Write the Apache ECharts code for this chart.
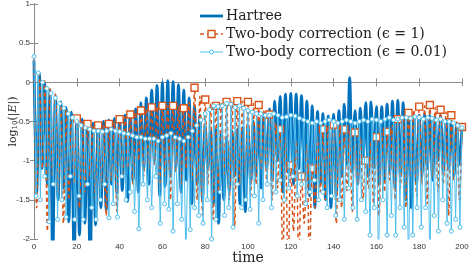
<!DOCTYPE html>
<html>
<head>
<meta charset="utf-8">
<script src="https://cdn.jsdelivr.net/npm/echarts@6/dist/echarts.min.js"></script>
<style>html,body{margin:0;padding:0;background:#fff}#c{width:471px;height:265px}</style>
</head>
<body>
<div id="c"></div>
<script>
// ---- data ----
const seriesNames = ['Hartree', 'Two-body correction (ϵ = 1)', 'Two-body correction (ϵ = 0.01)'];
const xTicks = [0, 20, 40, 60, 80, 100, 120, 140, 160, 180, 200];
const yTicks = [-2, -1.5, -1, -0.5, 0, 0.5, 1];

// Hartree: oscillation period 2.5 (peaks at t = 0, 2.5, ..., 200; troughs half-way)
const hartreePeriod = 2.5;
const hartreePeaks = [0.28,0.11,-0.01,-0.1,-0.17,-0.25,-0.32,-0.38,-0.43,-0.47,-0.5,-0.52,-0.52,-0.5,-0.48,-0.46,-0.44,-0.42,-0.38,-0.34,
  -0.26,-0.2,-0.1,-0.04,0.0,0.02,0.01,-0.03,-0.1,-0.2,-0.3,-0.42,-0.55,-0.62,-0.6,-0.65,-0.7,-0.62,-0.6,-0.58,
  -0.55,-0.5,-0.48,-0.42,-0.34,-0.24,-0.18,-0.15,-0.14,-0.15,-0.17,-0.24,-0.3,-0.37,-0.4,-0.43,-0.41,-0.36,-0.28,0.06,
  -0.36,-0.33,-0.26,-0.25,-0.31,-0.31,-0.28,-0.24,-0.23,-0.26,-0.4,-0.45,-0.42,-0.4,-0.42,-0.45,-0.42,-0.48,-0.5,-0.52,-0.55];
const hartreeTroughs = [-1.42,-1.1,-1.3,-2.3,-1.5,-1.35,-1.78,-2.3,-1.95,-1.8,-2.4,-1.82,-1.6,-1.63,-1.3,-1.42,-1.38,-1.52,-1.25,-1.4,
  -1.1,-1.3,-1.0,-1.45,-1.33,-1.2,-1.1,-1.4,-1.25,-1.55,-1.3,-1.5,-1.1,-1.55,-1.8,-1.5,-1.4,-1.2,-1.55,-1.65,
  -1.3,-1.2,-1.35,-1.1,-1.25,-1.0,-1.4,-1.15,-1.3,-1.1,-1.2,-1.45,-1.6,-1.3,-1.5,-1.6,-1.45,-1.2,-1.05,-1.15,
  -1.3,-1.0,-1.2,-1.1,-1.3,-1.25,-1.15,-1.35,-1.2,-1.5,-1.6,-1.3,-1.2,-1.1,-1.25,-1.0,-1.15,-1.1,-1.2,-1.05];

// Two-body correction, eps = 1: period 2.5, square markers every 5 from t = 20
const eps1Period = 2.5;
const eps1MarkerEvery = 5;
const eps1MarkerStart = 20;
const eps1Peaks = [0.3,0.1,0.02,-0.08,-0.15,-0.25,-0.35,-0.42,-0.46,-0.5,-0.53,-0.55,-0.55,-0.55,-0.53,-0.5,-0.47,-0.44,-0.41,-0.38,
  -0.36,-0.34,-0.32,-0.31,-0.3,-0.3,-0.3,-0.31,-0.33,-0.25,-0.07,-0.18,-0.22,-0.27,-0.3,-0.27,-0.25,-0.24,-0.24,-0.24,
  -0.25,-0.27,-0.29,-0.35,-0.41,-0.5,-0.6,-0.7,-1.06,-0.75,-1.2,-0.8,-1.1,-0.7,-0.6,-0.55,-0.54,-0.55,-0.6,-0.62,
  -0.64,-0.7,-1.0,-0.75,-0.7,-0.65,-0.63,-0.55,-0.47,-0.43,-0.39,-0.35,-0.31,-0.3,-0.29,-0.32,-0.35,-0.38,-0.42,-0.5,-0.57];
const eps1Troughs = [-1.6,-1.1,-1.9,-1.2,-1.4,-1.8,-1.5,-1.3,-1.6,-1.4,-1.2,-1.5,-1.35,-1.7,-1.25,-1.65,-1.2,-1.1,-1.3,-1.0,
  -1.2,-1.1,-1.05,-1.35,-1.2,-1.5,-1.15,-1.3,-1.1,-1.25,-1.5,-1.7,-1.3,-1.75,-1.4,-1.2,-1.5,-1.85,-1.3,-1.2,
  -1.45,-1.3,-1.1,-1.25,-1.5,-1.35,-2.3,-2.4,-1.9,-2.3,-1.8,-2.3,-1.6,-1.4,-1.5,-1.3,-1.8,-1.6,-1.4,-1.65,
  -1.3,-1.5,-1.35,-1.6,-1.7,-1.4,-1.25,-1.5,-1.35,-1.6,-1.2,-1.45,-1.3,-1.55,-1.2,-1.4,-1.3,-1.7,-1.25,-1.5];

// Two-body correction, eps = 0.01: period 2 (peaks at t = 0, 2, ..., 200)
const eps001Period = 2;
const eps001Peaks = [0.33,0.12,0.0,-0.08,-0.14,-0.2,-0.27,-0.33,-0.4,-0.45,-0.5,-0.55,-0.58,-0.6,-0.62,-0.62,-0.63,-0.62,-0.6,-0.62,
  -0.63,-0.65,-0.66,-0.68,-0.7,-0.7,-0.72,-0.72,-0.72,-0.75,-0.7,-0.68,-0.65,-0.7,-0.72,-0.75,-0.7,-0.62,-0.55,-0.48,
  -0.4,-0.35,-0.3,-0.31,-0.3,-0.27,-0.28,-0.32,-0.3,-0.33,-0.36,-0.38,-0.4,-0.4,-0.42,-0.42,-0.4,-0.42,-0.45,-0.44,
  -0.42,-0.43,-0.46,-0.48,-0.5,-0.52,-0.5,-0.52,-0.5,-0.48,-0.5,-0.52,-0.5,-0.48,-0.5,-0.52,-0.5,-0.48,-0.5,-0.47,
  -0.48,-0.5,-0.47,-0.45,-0.48,-0.47,-0.45,-0.45,-0.46,-0.44,-0.45,-0.47,-0.45,-0.46,-0.48,-0.47,-0.5,-0.5,-0.52,-0.55,-0.58];
const eps001Troughs = [-1.45,-1.5,-1.2,-1.78,-1.3,-1.75,-1.5,-1.72,-1.2,-1.75,-1.45,-1.75,-1.3,-1.6,-1.75,-1.5,-1.3,-1.73,-1.55,-1.72,
  -1.2,-1.5,-1.4,-1.65,-1.87,-1.3,-1.5,-1.6,-1.2,-1.8,-1.55,-1.62,-1.9,-1.55,-1.75,-2.3,-1.88,-1.6,-1.7,-1.8,
  -1.5,-2.0,-1.75,-1.4,-1.7,-1.6,-1.85,-1.3,-1.6,-1.5,-1.62,-1.45,-1.8,-1.5,-1.3,-1.6,-1.4,-1.25,-1.5,-1.35,
  -1.2,-1.45,-1.3,-1.55,-1.4,-1.25,-1.5,-1.4,-1.6,-1.45,-1.7,-1.5,-1.75,-1.35,-1.6,-1.75,-1.5,-1.65,-1.95,-1.6,
  -2.4,-1.5,-1.95,-1.7,-1.95,-1.6,-1.85,-2.4,-1.95,-1.6,-1.85,-1.6,-2.4,-1.7,-1.9,-1.5,-1.8,-1.9,-1.75,-1.85];

// ---- build ----
function isMarker(t) {
  if (!eps1MarkerEvery || t < eps1MarkerStart) return false;
  const r = t / eps1MarkerEvery;
  return Math.abs(r - Math.round(r)) < 1e-9;
}
function build(peaks, troughs, period, withMarkers) {
  const out = [];
  for (let i = 0; i < peaks.length; i++) {
    const t = i * period;
    if (withMarkers) out.push({ value: [t, peaks[i]], symbol: isMarker(t) ? 'rect' : 'none' });
    else out.push([t, peaks[i]]);
    if (i < troughs.length) {
      const tt = t + period / 2;
      if (withMarkers) out.push({ value: [tt, troughs[i]], symbol: 'none' });
      else out.push([tt, troughs[i]]);
    }
  }
  return out;
}

const C1 = '#0072BD', C2 = '#D95319', C3 = '#4DBEEE';
const axisColor = '#8a8a8a';
const labelFont = 'Liberation Sans, Arial, sans-serif';
const serif = 'DejaVu Serif, serif';

// legend drawn as graphic (icons + real text)
const legendX = 200, legendY = [16, 34, 52], legendLen = 23, legendTextX = 226;
const legendGraphics = [];
[0, 1, 2].forEach(function (k) {
  const y = legendY[k];
  const style = k === 0 ? { stroke: C1, lineWidth: 2.8 }
              : k === 1 ? { stroke: C2, lineWidth: 1.5, lineDash: [4, 3] }
              : { stroke: C3, lineWidth: 1 };
  legendGraphics.push({ type: 'line', shape: { x1: legendX, y1: y, x2: legendX + legendLen, y2: y }, style: style, silent: true, z: 100 });
  if (k === 1) legendGraphics.push({ type: 'rect', shape: { x: legendX + legendLen / 2 - 3.5, y: y - 3.5, width: 7, height: 7 }, style: { fill: '#fff', stroke: C2, lineWidth: 1.4 }, z: 101 });
  if (k === 2) legendGraphics.push({ type: 'circle', shape: { cx: legendX + legendLen / 2, cy: y, r: 2 }, style: { fill: '#fff', stroke: C3, lineWidth: 1 }, z: 101 });
  legendGraphics.push({ type: 'text', x: legendTextX, y: y, style: { text: seriesNames[k], fontFamily: serif, fontSize: 14, fill: '#222', verticalAlign: 'middle', align: 'left' }, z: 101 });
});

const chart = echarts.init(document.getElementById('c'), null, { renderer: 'canvas' });
chart.setOption({
  animation: false,
  backgroundColor: '#fff',
  grid: { left: 34, right: 9, top: 4, bottom: 26, containLabel: false, outerBoundsMode: 'none' },
  graphic: legendGraphics,
  xAxis: [{
    type: 'value', min: xTicks[0], max: xTicks[xTicks.length - 1], interval: 20,
    axisLine: { show: true, lineStyle: { color: axisColor, width: 1 } },
    axisTick: { show: true, inside: true, length: 4, lineStyle: { color: axisColor } },
    axisLabel: { fontSize: 8, color: '#333', fontFamily: labelFont, margin: 4 },
    splitLine: { show: false },
    name: 'time', nameLocation: 'middle', nameGap: 12, nameMoveOverlap: false,
    nameTextStyle: { fontFamily: serif, fontSize: 14, color: '#222' }
  }, {
    type: 'value', position: 'top', min: 0, max: 200, interval: 20,
    axisLine: { show: true, lineStyle: { color: axisColor, width: 1 } },
    axisTick: { show: true, inside: true, length: 4, lineStyle: { color: axisColor } },
    axisLabel: { show: false }, splitLine: { show: false }
  }],
  yAxis: [{
    type: 'value', min: yTicks[0], max: yTicks[yTicks.length - 1], interval: 0.5,
    axisLine: { show: true, lineStyle: { color: axisColor, width: 1 } },
    axisTick: { show: true, inside: true, length: 4, lineStyle: { color: axisColor } },
    axisLabel: { fontSize: 8, color: '#333', fontFamily: labelFont, margin: 4 },
    splitLine: { show: false },
    name: '{a|log}{s|10}{a|(|}{i|E}{a||)}', nameLocation: 'middle', nameRotate: 90, nameGap: 15, nameMoveOverlap: false,
    nameTextStyle: {
      color: '#222',
      rich: {
        a: { fontFamily: serif, fontSize: 11, color: '#222' },
        i: { fontFamily: serif, fontSize: 11, fontStyle: 'italic', color: '#222' },
        s: { fontFamily: serif, fontSize: 7, color: '#222', padding: [5, 0, 0, 0] }
      }
    }
  }, {
    type: 'value', position: 'right', min: -2, max: 1, interval: 0.5,
    axisLine: { show: true, lineStyle: { color: axisColor, width: 1 } },
    axisTick: { show: true, inside: true, length: 4, lineStyle: { color: axisColor } },
    axisLabel: { show: false }, splitLine: { show: false }
  }],
  series: [{
    name: seriesNames[0], type: 'line', smooth: 0.35, symbol: 'none',
    lineStyle: { color: C1, width: 2.8 }, itemStyle: { color: C1 },
    data: build(hartreePeaks, hartreeTroughs, hartreePeriod, false), z: 2
  }, {
    name: seriesNames[1], type: 'line', smooth: 0.35, symbol: 'rect', symbolSize: 7,
    showSymbol: true, showAllSymbol: true,
    lineStyle: { color: C2, width: 1.5, type: [4, 3] },
    itemStyle: { color: '#fff', borderColor: C2, borderWidth: 1.4 },
    data: build(eps1Peaks, eps1Troughs, eps1Period, true), z: 3
  }, {
    name: seriesNames[2], type: 'line', symbol: 'circle', symbolSize: 4,
    showSymbol: true, showAllSymbol: true,
    lineStyle: { color: C3, width: 1 },
    itemStyle: { color: '#fff', borderColor: C3, borderWidth: 1 },
    data: build(eps001Peaks, eps001Troughs, eps001Period, false), z: 4
  }]
});
</script>
</body>
</html>
